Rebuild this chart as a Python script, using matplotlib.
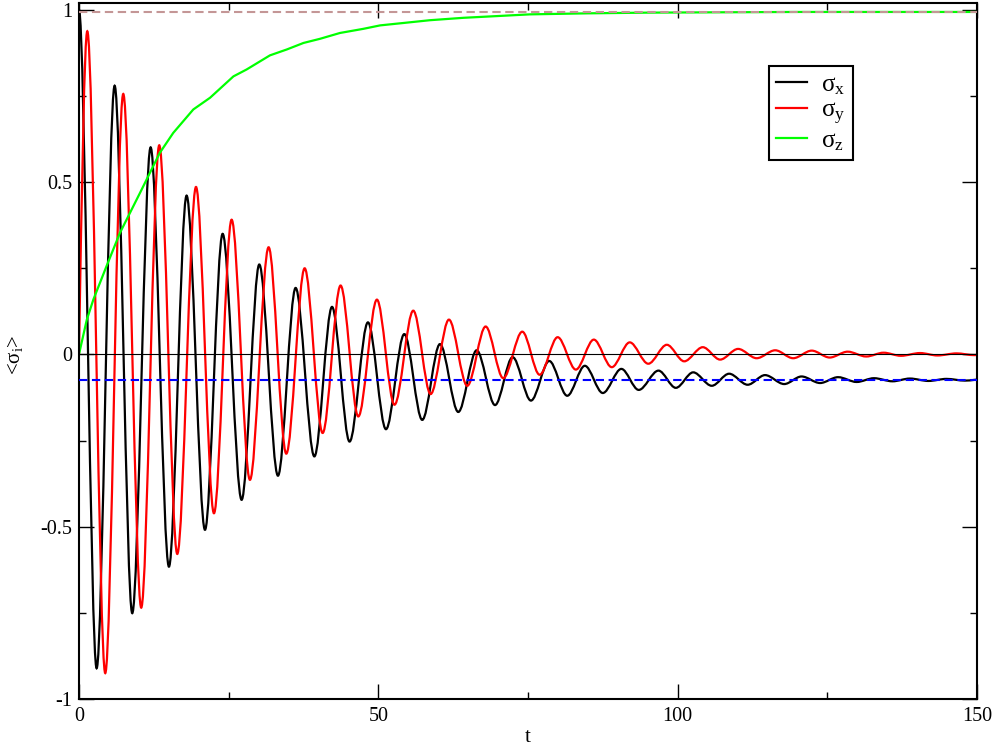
import numpy as np
import matplotlib
matplotlib.use("Agg")
import matplotlib.pyplot as plt
from matplotlib.path import Path
from matplotlib.patches import PathPatch
from matplotlib.lines import Line2D
from matplotlib.ticker import MultipleLocator, FormatStrFormatter

plt.rcParams['font.family'] = ['Liberation Serif', 'DejaVu Serif']
plt.rcParams['mathtext.fontset'] = 'custom'
plt.rcParams['mathtext.rm'] = 'Liberation Serif'
plt.rcParams['mathtext.it'] = 'Liberation Serif'
plt.rcParams['axes.unicode_minus'] = False

# ---- data (extrema of the oscillations) ----
sx_t = [0, 2.95, 5.96, 8.9, 11.97, 15.03, 17.98, 21.05, 24.0, 27.17,
        30.12, 33.24, 36.19, 39.32, 42.27, 45.2, 48.27, 51.28, 54.34, 57.34,
        60.3, 63.36, 66.43, 69.5, 72.44, 75.5, 78.55, 81.56, 84.5, 87.5,
        90.6, 93.5, 96.8, 99.7, 102.6, 105.7, 108.6, 111.7, 114.6, 117.8,
        120.7, 123.8, 126.8, 129.9, 132.8, 135.9, 138.8, 141.9, 144.9, 148.0,
        151.0]
sx_v = [1.0, -0.911, 0.780, -0.751, 0.601, -0.616, 0.461, -0.509, 0.350, -0.422,
        0.261, -0.352, 0.193, -0.296, 0.138, -0.253, 0.093, -0.217, 0.059, -0.190,
        0.030, -0.167, 0.012, -0.147, -0.008, -0.134, -0.019, -0.120, -0.033, -0.112,
        -0.042, -0.103, -0.047, -0.097, -0.052, -0.091, -0.056, -0.088, -0.060, -0.086,
        -0.064, -0.083, -0.066, -0.080, -0.069, -0.078, -0.070, -0.077, -0.071, -0.076,
        -0.072]

sy_t = [0, 1.39, 4.39, 7.40, 10.4, 13.41, 16.42, 19.55, 22.55, 25.5,
        28.56, 31.68, 34.63, 37.7, 40.7, 43.7, 46.66, 49.77, 52.7, 55.84,
        58.74, 61.8, 64.86, 67.93, 70.87, 74.05, 76.95, 79.96, 83.0, 86.0,
        89.0, 92.0, 95.1, 98.2, 101.1, 104.2, 107.1, 110.1, 113.2, 116.3,
        119.3, 122.4, 125.4, 128.4, 131.5, 134.4, 137.3, 140.5, 143.4, 146.6,
        149.5, 152.5]
sy_v = [0, 0.938, -0.925, 0.756, -0.735, 0.607, -0.579, 0.486, -0.461, 0.391,
        -0.364, 0.311, -0.288, 0.250, -0.228, 0.200, -0.180, 0.159, -0.146, 0.127,
        -0.115, 0.101, -0.091, 0.081, -0.069, 0.066, -0.059, 0.050, -0.044, 0.043,
        -0.037, 0.035, -0.027, 0.028, -0.020, 0.021, -0.015, 0.016, -0.011, 0.012,
        -0.011, 0.011, -0.009, 0.008, -0.006, 0.005, -0.004, 0.004, -0.003, 0.003,
        -0.002, 0.002]

sz_t = [0, 1.3, 2.4, 4.6, 6.85, 10.2, 13.5, 15.75, 19.1, 21.9,
        25.8, 28.0, 31.9, 34.7, 37.5, 40.25, 43.6, 47.5, 50.3, 54.2,
        58.6, 64.2, 69.8, 75.3, 85, 95, 107, 120, 135, 150]
sz_v = [0, 0.10, 0.159, 0.256, 0.353, 0.469, 0.585, 0.643, 0.711, 0.745,
        0.807, 0.827, 0.868, 0.885, 0.904, 0.916, 0.933, 0.945, 0.955, 0.962,
        0.970, 0.977, 0.982, 0.987, 0.990, 0.992, 0.993, 0.994, 0.994, 0.994]

sz_limit = 0.9945
sx_limit = -0.074

labels = ['σ$_{\\mathrm{x}}$', 'σ$_{\\mathrm{y}}$', 'σ$_{\\mathrm{z}}$']
colors = ['#000000', '#ff0000', '#00ff00']


def smooth_path(ts, vs, start_slope_factor=0.0):
    """Bezier path through extrema (flat tangents at each extremum)."""
    verts = [(ts[0], vs[0])]
    codes = [Path.MOVETO]
    for i in range(len(ts) - 1):
        t0, v0, t1, v1 = ts[i], vs[i], ts[i + 1], vs[i + 1]
        dt = t1 - t0
        s0 = start_slope_factor * (v1 - v0) / dt if i == 0 else 0.0
        verts += [(t0 + dt / 3, v0 + s0 * dt / 3), (t1 - dt / 3, v1), (t1, v1)]
        codes += [Path.CURVE4] * 3
    return Path(verts, codes)


fig = plt.figure(figsize=(9.97, 7.49), dpi=100)
ax = fig.add_axes([0.0792, 0.0668, 0.9007, 0.9292])

lw = 1.6
ax.add_patch(PathPatch(smooth_path(sx_t, sx_v), facecolor='none',
                       edgecolor=colors[0], lw=lw, zorder=2))
ax.add_patch(PathPatch(smooth_path(sy_t, sy_v, 1.5), facecolor='none',
                       edgecolor=colors[1], lw=lw, zorder=2.1))
ax.plot(sz_t, sz_v, color=colors[2], lw=lw, zorder=2.2)

ax.axhline(0, color='black', lw=0.8, zorder=3)
ax.axhline(sx_limit, color='#0000ff', lw=1.5, dashes=(4, 2.2), zorder=3)
ax.axhline(sz_limit, color='#c49696', lw=1.5, dashes=(4, 2.2), zorder=3)

ax.set_xlim(0, 150)
ax.set_ylim(-1, 1.02)
ax.xaxis.set_major_locator(MultipleLocator(50))
ax.xaxis.set_minor_locator(MultipleLocator(25))
ax.yaxis.set_major_locator(MultipleLocator(0.5))
ax.yaxis.set_minor_locator(MultipleLocator(0.25))
ax.yaxis.set_major_formatter(FormatStrFormatter('%g'))
ax.xaxis.set_major_formatter(FormatStrFormatter('%g'))

for sp in ax.spines.values():
    sp.set_linewidth(1.5)
ax.tick_params(which='both', direction='in', top=True, right=True,
               width=1.0, labelsize=14.5)
ax.tick_params(which='major', length=10.8)
ax.tick_params(which='minor', length=5)
ax.tick_params(axis='x', pad=6)
ax.tick_params(axis='y', pad=5)

fig.text(15 / 997, 1 - 355 / 749, '<σ$_{\\mathrm{i}}$>', rotation=90,
         ha='center', va='center', fontsize=15)
fig.text(528 / 997, 1 - 737 / 749, 't', ha='center', va='center', fontsize=15)

handles = [Line2D([], [], color=c, lw=lw) for c in colors]
leg = ax.legend(handles, labels, loc='upper left',
                bbox_to_anchor=(0.768, 0.9095), borderaxespad=0,
                fontsize=18, handlelength=1.25, handletextpad=0.55,
                labelspacing=0.12, borderpad=0.3, fancybox=False,
                framealpha=1, edgecolor='black')
leg.get_frame().set_linewidth(1.5)

fig.savefig('out.png', dpi=100)
